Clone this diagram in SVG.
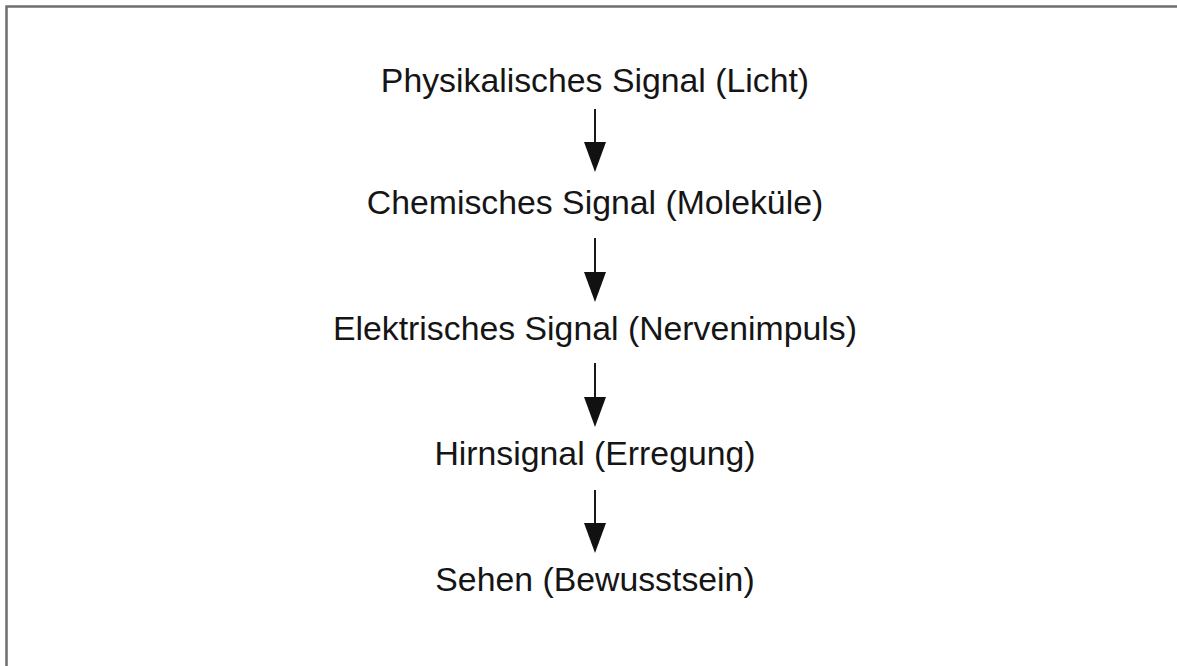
<svg xmlns="http://www.w3.org/2000/svg" width="1177" height="666" viewBox="0 0 1177 666">
  <style>
    .label { font-family: "Liberation Sans", Arial, Helvetica, sans-serif; font-size: 33.8px; fill: #151515; text-anchor: middle; }
    .link { stroke: #1a1a1a; stroke-width: 2; fill: none; marker-end: url(#head); }
  </style>
  <defs>
    <!-- solid triangular head, drawn from the end of the shaft onward -->
    <marker id="head" markerUnits="userSpaceOnUse" markerWidth="30" markerHeight="22" refX="0" refY="11" orient="auto" viewBox="0 0 30 22">
      <path d="M0,0 L30,11 L0,22 Z" fill="#111"/>
    </marker>
  </defs>

  <rect width="1177" height="666" fill="#ffffff"/>
  <!-- outer frame, open to the right and bottom edges -->
  <rect x="6.5" y="6.5" width="1180" height="670" fill="none" stroke="#6e6e6e" stroke-width="2.5"/>

  <g id="connectors">
    <line class="link" x1="595" y1="109" x2="595" y2="142"/>
    <line class="link" x1="595" y1="238" x2="595" y2="272"/>
    <line class="link" x1="595" y1="363" x2="595" y2="397"/>
    <line class="link" x1="595" y1="490" x2="595" y2="523"/>
  </g>

  <g id="node-licht">
    <text class="label" x="595" y="92">Physikalisches Signal (Licht)</text>
  </g>
  <g id="node-molekuele">
    <text class="label" x="595" y="214">Chemisches Signal (Moleküle)</text>
  </g>
  <g id="node-nervenimpuls">
    <text class="label" x="595" y="340">Elektrisches Signal (Nervenimpuls)</text>
  </g>
  <g id="node-erregung">
    <text class="label" x="595" y="465">Hirnsignal (Erregung)</text>
  </g>
  <g id="node-bewusstsein">
    <text class="label" x="595" y="591">Sehen (Bewusstsein)</text>
  </g>
</svg>
